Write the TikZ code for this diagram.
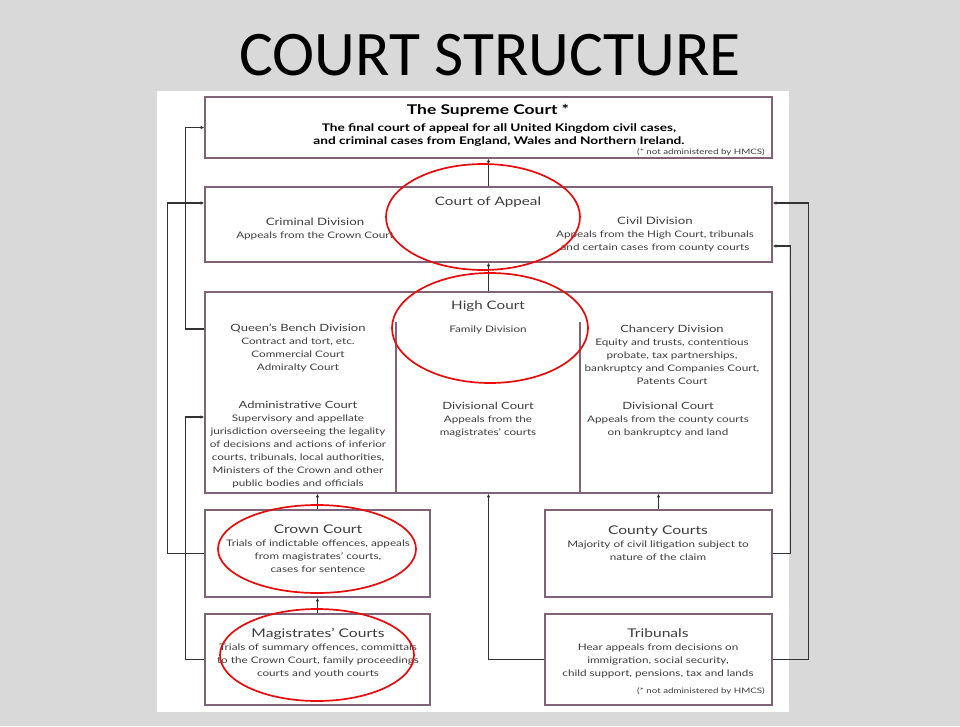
\documentclass[tikz,border=0pt]{standalone}
\usepackage{fontspec}
\setmainfont{Lato}[FakeStretch=1.3]
\newfontfamily\titrefont{Carlito}
\usetikzlibrary{arrows.meta, calc}
\definecolor{fond}{RGB}{217,217,217}
\definecolor{mauve}{RGB}{128,98,122}
\definecolor{texte}{RGB}{62,62,62}
\definecolor{rouge}{RGB}{232,12,12}

\begin{document}
\begin{tikzpicture}[x=1pt, y=-1pt,
    boite/.style={draw=mauve, line width=1.6pt, fill=white, inner sep=0pt},
    entete/.style={text=texte, inner sep=0pt, font=\fontsize{11.7}{13}\selectfont},
    corps/.style={text=texte, align=center, inner sep=0pt, font=\fontsize{9}{13}\selectfont},
    renvoi/.style={text=texte, anchor=east, inner sep=0pt, font=\fontsize{7.5}{8}\selectfont},
    fleche/.style={-{Latex[length=3.5pt, width=3.5pt]}, line width=1.1pt, draw=black!80},
    cercle/.style={draw=rouge, line width=1.7pt}]

    % Fond de la diapositive
    \useasboundingbox[fill=fond] (0,0) rectangle (960,726);
    \fill[white] (157,91) rectangle (789,712);
    \node[font=\titrefont\fontsize{63.5}{66}\selectfont] (titre) at (490,55) {COURT STRUCTURE};

    % Définitions des cours
    \node[boite, minimum width=567, minimum height=61] (supreme) at (488.5,127.5) {};
    \node[boite, minimum width=567, minimum height=75] (appeal) at (488.5,224.5) {};
    \node[boite, minimum width=567, minimum height=201] (high) at (488.5,392.5) {};
    \node[boite, minimum width=225, minimum height=87] (crown) at (317.5,553.5) {};
    \node[boite, minimum width=225, minimum height=91] (magis) at (317.5,659.5) {};
    \node[boite, minimum width=227, minimum height=87] (county) at (658.5,553.5) {};
    \node[boite, minimum width=227, minimum height=91] (tribunals) at (658.5,659.5) {};
    \draw[mauve, line width=1.2pt] (396,322) -- (396,493);
    \draw[mauve, line width=1.2pt] (580,322) -- (580,493);

    % Textes
    \node[text=black, inner sep=0pt, font=\bfseries\fontsize{13.4}{15}\selectfont] (tsupreme) at (488,111) {The Supreme Court *};
    \node[corps, text=black, font=\bfseries\fontsize{10.5}{12.8}\selectfont] (dsupreme) at (499,135)
        {The final court of appeal for all United Kingdom civil cases,\\and criminal cases from England, Wales and Northern Ireland.};
    \node[renvoi] (nsupreme) at (765,152) {(* not administered by HMCS)};

    \node[entete] (tappeal) at (488,202) {Court of Appeal};
    \node[corps] (criminal) at (315,229) {{\fontsize{10.2}{13}\selectfont Criminal Division}\\Appeals from the Crown Court};
    \node[corps] (civil) at (655,235) {{\fontsize{10.2}{13}\selectfont Civil Division}\\Appeals from the High Court, tribunals\\and certain cases from county courts};

    \node[entete] (thigh) at (488,306) {High Court};
    \node[corps] (family) at (488,330) {Family Division};
    \node[corps] (qbd) at (298,348) {{\fontsize{10}{13}\selectfont Queen's Bench Division}\\Contract and tort, etc.\\Commercial Court\\Admiralty Court};
    \node[corps] (admin) at (298,445) {{\fontsize{10}{13}\selectfont Administrative Court}\\Supervisory and appellate\\jurisdiction overseeing the legality\\of decisions and actions of inferior\\courts, tribunals, local authorities,\\Ministers of the Crown and other\\public bodies and officials};
    \node[corps] (divmag) at (488,420) {{\fontsize{10}{13}\selectfont Divisional Court}\\Appeals from the\\magistrates' courts};
    \node[corps] (chancery) at (672,355) {{\fontsize{10}{13}\selectfont Chancery Division}\\Equity and trusts, contentious\\probate, tax partnerships,\\bankruptcy and Companies Court,\\Patents Court};
    \node[corps] (divcounty) at (668,420) {{\fontsize{10}{13}\selectfont Divisional Court}\\Appeals from the county courts\\on bankruptcy and land};

    \node[corps] (tcrown) at (318,549) {{\fontsize{12}{13}\selectfont Crown Court}\\Trials of indictable offences, appeals\\from magistrates' courts,\\cases for sentence};
    \node[corps] (tmagis) at (318,653) {{\fontsize{12}{13}\selectfont Magistrates' Courts}\\Trials of summary offences, committals\\to the Crown Court, family proceedings\\courts and youth courts};
    \node[corps] (tcounty) at (658,543) {{\fontsize{12}{13}\selectfont County Courts}\\Majority of civil litigation subject to\\nature of the claim};
    \node[corps] (ttribunals) at (658,653) {{\fontsize{12}{13}\selectfont Tribunals}\\Hear appeals from decisions on\\immigration, social security,\\child support, pensions, tax and lands};
    \node[renvoi] (ntribunals) at (765,691) {(* not administered by HMCS)};

    % Définition des recours
    \draw[fleche] (appeal.north) -- (supreme.south);
    \draw[fleche] (high.north) -- (appeal.south);
    \draw[fleche] (crown.north) -- (crown.north |- high.south);
    \draw[fleche] (county.north) -- (county.north |- high.south);
    \draw[fleche] (magis.north) -- (crown.south);
    \draw[fleche] (tribunals.west) -| (high.south);
    \draw[fleche] (high.west |- 0,329) -- ++(-19,0) |- (supreme.west);
    \draw[fleche] (crown.west) -- ++(-37,0) |- (appeal.west |- 0,203);
    \draw[fleche] (magis.west) -- ++(-19,0) |- (high.west |- 0,417);
    \draw[fleche] (county.east) -- ++(18,0) |- (appeal.east |- 0,246);
    \draw[fleche] (tribunals.east) -- ++(36,0) |- (appeal.east |- 0,203);

    % Cercles rouges
    \draw[cercle] (483,217) ellipse [x radius=97, y radius=53];
    \draw[cercle] (490,328) ellipse [x radius=98, y radius=55];
    \draw[cercle] (317,549) ellipse [x radius=99, y radius=44];
    \draw[cercle] (317,655) ellipse [x radius=97, y radius=46];

\end{tikzpicture}
\end{document}
